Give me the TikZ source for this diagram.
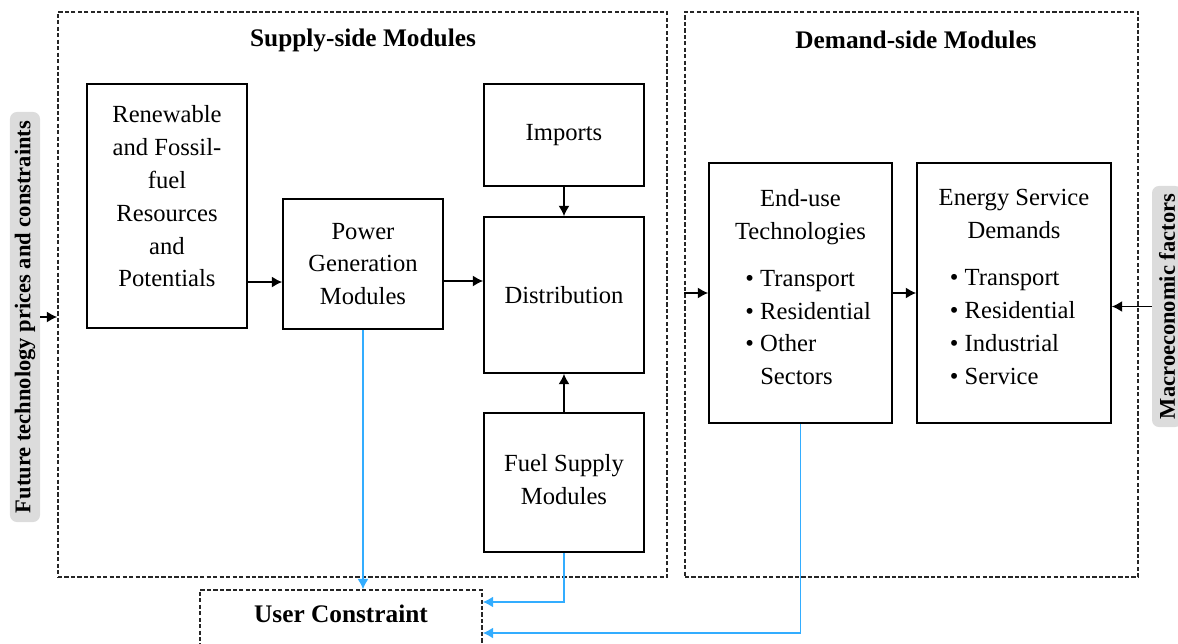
\documentclass[tikz,border=0pt]{standalone}
\usepackage{fontspec}
\setmainfont{Liberation Serif}
\usetikzlibrary{arrows.meta}

\definecolor{linkblue}{RGB}{51,173,255}
\definecolor{labelgray}{RGB}{220,220,220}

\newcommand{\bulletLine}[2]{\makebox[#1][l]{\textbullet\ #2}}

\tikzset{
  modbox/.style={draw, line width=1.1pt, inner sep=0pt, align=center,
    font=\fontsize{17.5}{23.4}\selectfont},
  groupbox/.style={draw=black!85, dash pattern=on 3pt off 1.6pt, line width=1pt, inner sep=0pt},
  sidelabel/.style={fill=labelgray, rounded corners=5pt, rotate=90, inner sep=0pt,
    minimum height=0.75cm, font=\fontsize{16}{19}\selectfont\bfseries},
  headtext/.style={font=\fontsize{18}{22}\selectfont\bfseries},
  flowarrow/.style={line width=1.3pt, -{Latex[length=2.6mm,width=2.8mm]}},
  userarrow/.style={draw=linkblue, line width=1.4pt, -{Latex[length=2.6mm,width=2.8mm]}},
}

\begin{document}
\begin{tikzpicture}[x=0.025cm, y=-0.025cm]
        \useasboundingbox (0,0) rectangle (1178,644);
        \clip (0,0) rectangle (1178,644);

        % groups
        \node[groupbox, minimum width=15.225cm, minimum height=14.125cm] (supply) at (362.5,294.5) {};
        \node[groupbox, minimum width=11.325cm, minimum height=14.125cm] (demand) at (911.5,294.5) {};
        \node[headtext] (supplyT) at (363,40) {Supply-side Modules};
        \node[headtext] (demandT) at (916,40) {Demand-side Modules};

        % side inputs
        \node[sidelabel, minimum width=10.25cm] (future) at (25,317) {Future technology prices and constraints};
        \node[sidelabel, minimum width=6.025cm] (macro) at (1167,306.5) {Macroeconomic factors};

        % supply side
        \node[modbox, minimum width=4cm, minimum height=6.1cm, text depth=14pt] (ren) at (167,206)
            {Renewable\\and Fossil-\\fuel\\Resources\\and\\Potentials};
        \node[modbox, minimum width=4cm, minimum height=3.25cm] (pow) at (363,264)
            {Power\\Generation\\Modules};
        \node[modbox, minimum width=4cm, minimum height=2.55cm] (imp) at (564,135) {Imports};
        \node[modbox, minimum width=4cm, minimum height=3.9cm] (dist) at (564,295) {Distribution};
        \node[modbox, minimum width=4cm, minimum height=3.475cm, text depth=4pt] (fuel) at (564,482.5)
            {Fuel Supply\\Modules};

        % demand side
        \node[modbox, minimum width=4.575cm, minimum height=6.5cm, text depth=8.5pt] (enduse) at (800.5,293)
            {End-use\\Technologies\\[10pt]\bulletLine{2.75cm}{Transport}\\\bulletLine{2.75cm}{Residential}\\
             \bulletLine{2.75cm}{Other}\\\makebox[2.75cm][l]{\phantom{\textbullet\ }Sectors}};
        \node[modbox, minimum width=4.85cm, minimum height=6.5cm, text depth=8.5pt] (esd) at (1014,293)
            {Energy Service\\Demands\\[10pt]\bulletLine{3.2cm}{Transport}\\\bulletLine{3.2cm}{Residential}\\
             \bulletLine{3.2cm}{Industrial}\\\bulletLine{3.2cm}{Service}};

        % user constraint
        \node[groupbox, headtext, minimum width=7.05cm, minimum height=1.7cm, text depth=14pt] (user) at (341,624)
            {User Constraint};

        % flows
        \draw[flowarrow] (future.south) -- (future.south -| supply.west);
        \draw[flowarrow] ([yshift=-1.9cm]ren.east) -- ([yshift=-1.9cm]ren.east -| pow.west);
        \draw[flowarrow] ([yshift=-0.425cm]pow.east) -- ([yshift=-0.425cm]pow.east -| dist.west);
        \draw[flowarrow] (imp.south) -- (dist.north);
        \draw[flowarrow] (fuel.north) -- (dist.south);
        \draw[flowarrow] (enduse.west -| demand.west) -- (enduse.west);
        \draw[flowarrow] (enduse.east) -- (esd.west);
        \draw[flowarrow] (macro.north) -- (macro.north -| esd.east);

        % constraints
        \draw[userarrow] (pow.south) -- (pow.south |- user.north);
        \draw[userarrow] (fuel.south) |- ([yshift=0.55cm]user.east);
        \draw[userarrow] (enduse.south) |- ([yshift=-0.225cm]user.east);
\end{tikzpicture}
\end{document}
